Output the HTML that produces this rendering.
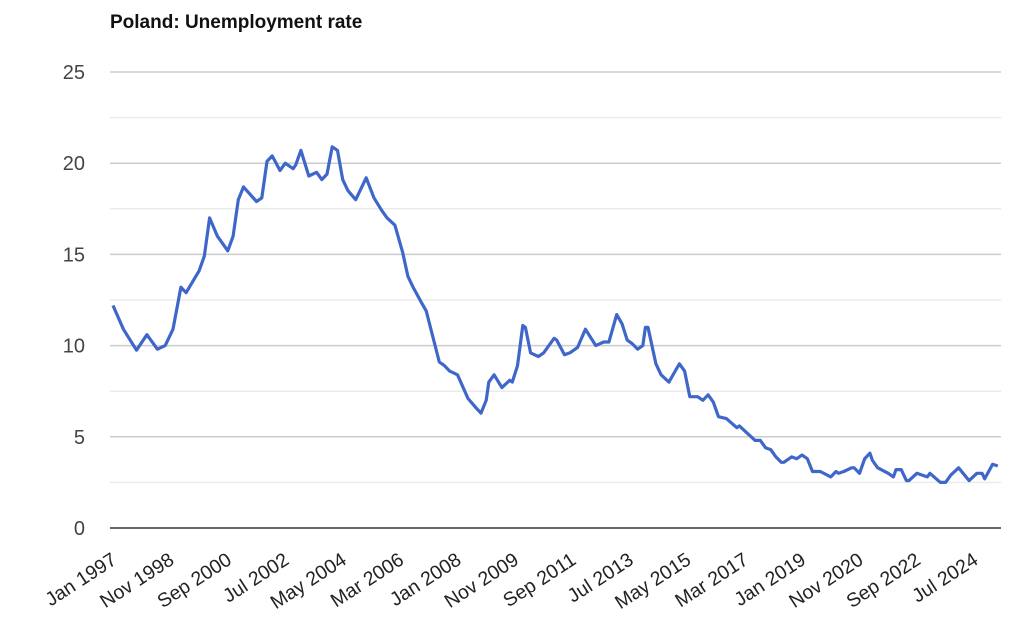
<!DOCTYPE html>
<html><head><meta charset="utf-8"><style>
body{margin:0;background:#fff;}
svg{display:block;font-family:"Liberation Sans",Arial,sans-serif;}
</style></head><body>
<svg id="chart" width="1024" height="644" viewBox="0 0 1024 644">
<text x="110" y="28" font-size="19" font-weight="bold" fill="#111">Poland: Unemployment rate</text>
<g id="grid"></g><g id="yl"></g><g id="xl"></g><g id="series"></g>
</svg>
<script>
const months=[0,4,9,13,17,20,23,26,28,33,35,37,40,44,46,48,50,55,57,59,61,64,66,69,70,72,75,78,80,82,84,86,88,90,93,97,100,103,105,108,111,113,115,118,120,125,127,129,132,136,139,141,143,144,146,149,152,153,155,157,158,160,163,165,169,170,173,175,178,181,185,188,190,193,195,197,199,201,203,204,205,208,210,213,215,217,219,221,224,226,228,230,232,235,239,240,243,246,248,250,252,254,256,257,260,262,264,266,268,271,275,277,278,280,283,284,286,288,290,291,293,297,299,300,302,304,305,308,310,312,313,317,319,321,324,328,331,333,334,337,339];
const rates=[12.2,10.9,9.75,10.6,9.8,10.0,10.9,13.2,12.9,14.1,14.9,17.0,16.0,15.2,16.0,18.0,18.7,17.9,18.1,20.1,20.4,19.6,20.0,19.7,19.9,20.7,19.3,19.5,19.1,19.4,20.9,20.7,19.1,18.5,18.0,19.2,18.1,17.4,17.0,16.6,15.1,13.8,13.2,12.4,11.9,9.1,8.9,8.6,8.4,7.1,6.6,6.3,7.0,8.0,8.4,7.7,8.1,8.0,8.9,11.1,11.0,9.6,9.4,9.6,10.4,10.3,9.5,9.6,9.9,10.9,10.0,10.2,10.2,11.7,11.2,10.3,10.1,9.8,10.0,11.0,11.0,9.0,8.4,8.0,8.5,9.0,8.6,7.2,7.2,7.0,7.3,6.9,6.1,6.0,5.5,5.6,5.2,4.8,4.8,4.4,4.3,3.9,3.6,3.6,3.9,3.8,4.0,3.8,3.1,3.1,2.8,3.1,3.0,3.1,3.3,3.3,3.0,3.8,4.1,3.7,3.3,3.0,2.8,3.2,3.2,2.6,2.6,3.0,2.9,2.8,3.0,2.5,2.5,2.9,3.3,2.6,3.0,3.0,2.7,3.5,3.4];
const yTicks=[0,5,10,15,20,25];
const xTickMonths=[0,22,44,66,88,110,132,154,176,198,220,242,264,286,308,330];
const xTickLabels=["Jan 1997","Nov 1998","Sep 2000","Jul 2002","May 2004","Mar 2006","Jan 2008","Nov 2009","Sep 2011","Jul 2013","May 2015","Mar 2017","Jan 2019","Nov 2020","Sep 2022","Jul 2024"];
const NS="http://www.w3.org/2000/svg";
const X=m=>113+m*2.61, Y=v=>528-v*18.24;
const grid=document.getElementById('grid'),yl=document.getElementById('yl'),xl=document.getElementById('xl'),ser=document.getElementById('series');
for(let v=2.5;v<25.1;v+=2.5){
 const l=document.createElementNS(NS,'line');
 
 
 l.setAttribute('x1',110);l.setAttribute('x2',1001);l.setAttribute('y1',Y(v));l.setAttribute('y2',Y(v));
 l.setAttribute('stroke',(v%5===0)?'#cccccc':'#ebebeb');l.setAttribute('stroke-width',1.5);grid.appendChild(l);
}
const ax=document.createElementNS(NS,'line');


ax.setAttribute('x1',110);ax.setAttribute('x2',1001);ax.setAttribute('y1',Y(0));ax.setAttribute('y2',Y(0));ax.setAttribute('stroke','#333');ax.setAttribute('stroke-width',1.5);grid.appendChild(ax);
yTicks.forEach(v=>{const t=document.createElementNS(NS,'text');
 
 
 t.setAttribute('x',85);t.setAttribute('y',Y(v)+7);t.setAttribute('text-anchor','end');t.setAttribute('font-size','20');t.setAttribute('fill','#444');t.textContent=v;yl.appendChild(t);});
xTickMonths.forEach((m,i)=>{const t=document.createElementNS(NS,'text');
 
 
 const x=X(m)+5,y=563;t.setAttribute('x',x);t.setAttribute('y',y);t.setAttribute('text-anchor','end');t.setAttribute('font-size','19.5');t.setAttribute('fill','#222');t.setAttribute('transform',`rotate(-33 ${x} ${y})`);t.textContent=xTickLabels[i];xl.appendChild(t);});
const p=document.createElementNS(NS,'path');


p.setAttribute('d',months.map((m,i)=>(i?'L':'M')+X(m).toFixed(1)+' '+Y(rates[i]).toFixed(1)).join(' '));
p.setAttribute('fill','none');p.setAttribute('stroke','#3f67c9');p.setAttribute('stroke-width',3.2);p.setAttribute('stroke-linejoin','round');ser.appendChild(p);
</script>
</body></html>
